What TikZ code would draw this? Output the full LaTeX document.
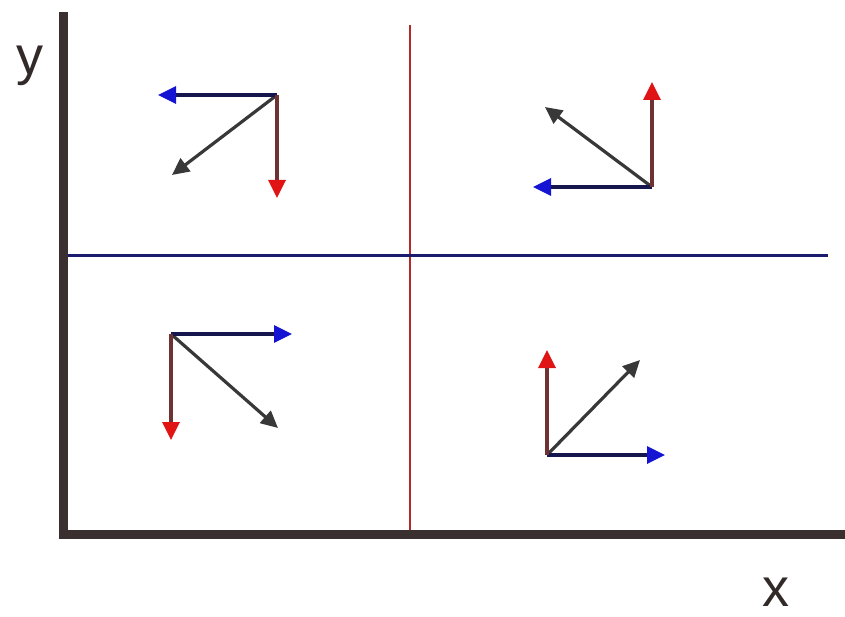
\documentclass[tikz,border=0pt]{standalone}
\usepackage{fontspec}
\setmainfont{Liberation Sans}
\usetikzlibrary{arrows.meta}
\definecolor{AxisBrown}{HTML}{3B3030}
\definecolor{VecRed}{HTML}{E01414}
\definecolor{VecRedDark}{HTML}{6E3232}
\definecolor{VecBlue}{HTML}{1414D2}
\definecolor{VecNavy}{HTML}{16164E}
\definecolor{VecGray}{HTML}{383838}
\definecolor{SplitRed}{HTML}{B42A2A}
\definecolor{SplitBlue}{HTML}{1C1C6E}

\begin{document}
\begin{tikzpicture}[x=1pt,y=-1pt,
  redvec/.style={VecRedDark,line width=3.4pt,-{Triangle[length=18pt,width=17pt,color=VecRed,fill=VecRed]}},
  bluevec/.style={VecNavy,line width=3.4pt,-{Triangle[length=18pt,width=17pt,color=VecBlue,fill=VecBlue]}},
  grayvec/.style={VecGray,line width=3.2pt,-{Triangle[length=17pt,width=16pt,fill=VecGray]}},
  axislabel/.style={font=\fontsize{54}{60}\selectfont,text=AxisBrown!85!black,inner sep=0pt}]
  \useasboundingbox (0,0) rectangle (845,617);
  \def\vecgroup#1#2#3#4#5{
    \coordinate (#1o) at #2;
    \coordinate (#1r) at #3;
    \coordinate (#1b) at #4;
    \coordinate (#1g) at #5;
    \draw[grayvec] (#1o) -- (#1g);
    \draw[bluevec] (#1o) -- (#1b);
    \draw[redvec] (#1o) -- (#1r);
  }
  % quadrant dividers
  \coordinate (vtop) at (410,25);
  \coordinate (vbot) at (410,534);
  \coordinate (hleft) at (63,256);
  \coordinate (hright) at (828,256);
  \draw[SplitRed,line width=1.6pt] (vtop) -- (vbot);
  \draw[SplitBlue,line width=3pt] (hleft) -- (hright);
  % axes
  \coordinate (ytop) at (63,12);
  \coordinate (orig) at (63,534.5);
  \coordinate (xend) at (845,534.5);
  \draw[AxisBrown,line width=9pt] (ytop) -- (orig) -- (xend);
  \node[axislabel] (ylab) at (30,66) {y};
  \node[axislabel] (xlab) at (776,592) {x};
  % vectors
  \vecgroup{tl}{(277,95)}{(277,198)}{(158,95)}{(172,175)}
  \vecgroup{tr}{(652,187)}{(652,82)}{(533,187)}{(545,107)}
  \vecgroup{bl}{(171,334)}{(171,440)}{(292,334)}{(278,428)}
  \vecgroup{br}{(547,455)}{(547,350)}{(665,455)}{(640,360)}
\end{tikzpicture}
\end{document}
